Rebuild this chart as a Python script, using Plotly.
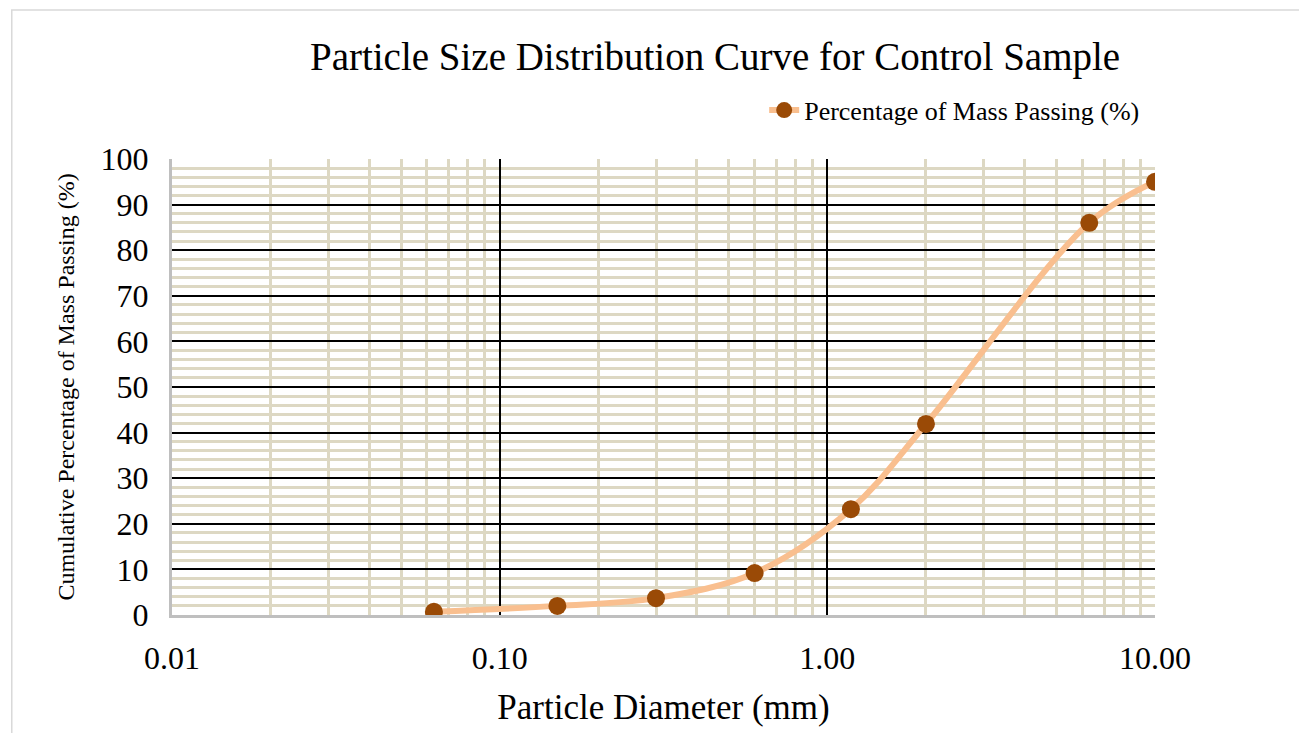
import plotly.graph_objects as go

diameter_mm = [0.063, 0.15, 0.3, 0.6, 1.18, 2.0, 6.3, 10.0]
passing_pct = [0.7, 2.0, 3.7, 9.2, 23.2, 41.9, 86.0, 95.0]

x_tickvals = [0.01, 0.1, 1, 10]
x_ticktext = ["0.01", "0.10", "1.00", "10.00"]
x_minor = [m * d for d in [0.01, 0.1, 1] for m in range(2, 10)]

FONT = "Liberation Serif"
GRID_MINOR = "#DDD8C3"

fig = go.Figure()
fig.add_trace(go.Scatter(
    x=diameter_mm, y=passing_pct,
    mode="lines+markers",
    name="Percentage of Mass Passing (%)",
    line=dict(color="#F9BF8F", width=6, shape="spline", smoothing=1.0),
    marker=dict(color="#9A4A06", size=18),
))

# page body has an 8px default margin, so the figure is offset by 8px
fig.update_layout(
    width=1299, height=725,
    paper_bgcolor="white", plot_bgcolor="white",
    margin=dict(l=164, r=152, t=151, b=118),
    font=dict(family=FONT, color="black"),
    title=dict(text="Particle Size Distribution Curve for Control Sample",
               x=0.5443, xanchor="center", y=0.934, yanchor="middle",
               font=dict(size=39, family=FONT, color="black")),
    showlegend=True,
    legend=dict(x=0.99, xanchor="right", y=1.107, yanchor="middle",
                font=dict(size=26, family=FONT), bgcolor="rgba(0,0,0,0)"),
)

fig.update_xaxes(
    type="log", range=[-2, 1],
    tickvals=x_tickvals, ticktext=x_ticktext,
    tickfont=dict(size=32, family=FONT),
    ticks="", ticklabelstandoff=13,
    showgrid=True, gridcolor="black", gridwidth=2,
    minor=dict(tickvals=x_minor, showgrid=True, gridcolor=GRID_MINOR, gridwidth=3),
    showline=True, linecolor="#BFBFBF", linewidth=3,
    zeroline=False, automargin=False,
    title=dict(text="Particle Diameter (mm)", font=dict(size=35, family=FONT), standoff=20),
)
fig.update_yaxes(
    range=[0, 100], dtick=10, tick0=0,
    tickfont=dict(size=32, family=FONT),
    ticks="", ticklabelstandoff=14,
    showgrid=True, gridcolor="black", gridwidth=2,
    minor=dict(dtick=2, showgrid=True, gridcolor=GRID_MINOR, gridwidth=3),
    showline=True, linecolor="#BFBFBF", linewidth=3,
    zeroline=False, automargin=False,
    title=dict(text="Cumulative Percentage of Mass Passing (%)", font=dict(size=24, family=FONT), standoff=20),
)

# light outer chart frame
fig.add_shape(type="rect", xref="paper", yref="paper",
              x0=-0.163, x1=1.1475, y0=-0.27, y1=1.327,
              line=dict(color="#D9D9D9", width=1.5), fillcolor="rgba(0,0,0,0)", layer="below")

fig.write_html("out.html")
